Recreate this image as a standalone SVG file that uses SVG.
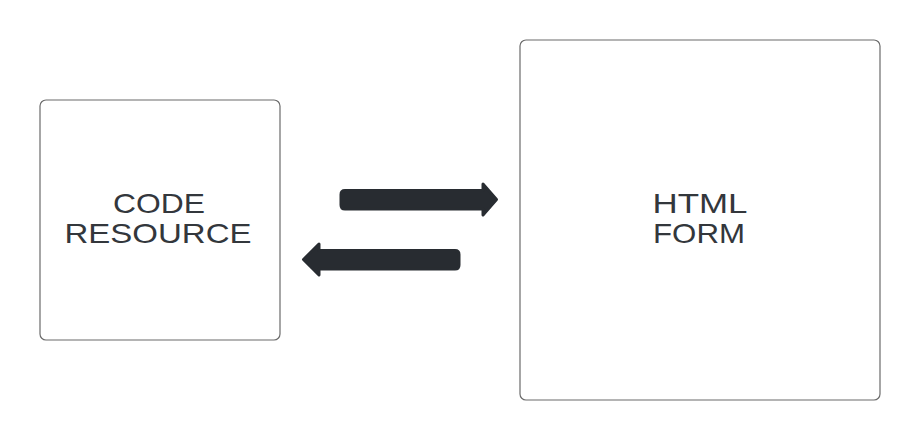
<svg xmlns="http://www.w3.org/2000/svg" width="920" height="440" viewBox="0 0 920 440">
<style>
.box{fill:#fff;stroke:#6b6b6b;stroke-width:1.2}
.lbl{font-family:"Liberation Sans",Arial,sans-serif;font-size:28px;fill:#33373c;text-anchor:middle}
.arr{fill:#282c31;stroke:#282c31;stroke-width:3;stroke-linejoin:round}
</style>
<rect width="920" height="440" fill="#fff"/>
<g id="code-resource">
<rect class="box" x="40" y="100" width="240" height="240" rx="6"/>
<text class="lbl" x="159" y="213" textLength="92" lengthAdjust="spacingAndGlyphs">CODE</text>
<text class="lbl" x="158" y="243" textLength="187" lengthAdjust="spacingAndGlyphs">RESOURCE</text>
</g>
<g id="html-form">
<rect class="box" x="520" y="40" width="360" height="360" rx="6"/>
<text class="lbl" x="700" y="213" textLength="95" lengthAdjust="spacingAndGlyphs">HTML</text>
<text class="lbl" x="699" y="243" textLength="92" lengthAdjust="spacingAndGlyphs">FORM</text>
</g>
<g id="connectors">
<path class="arr" d="M345,190.5 H483 V184 L496.5,199.5 L483,215 V209 H345 Q341,209 341,205 V194.5 Q341,190.5 345,190.5 Z"/>
<path class="arr" d="M455,250.5 H319 V244 L303.5,259.5 L319,275 V269 H455 Q459,269 459,265 V254.5 Q459,250.5 455,250.5 Z"/>
</g>
</svg>
